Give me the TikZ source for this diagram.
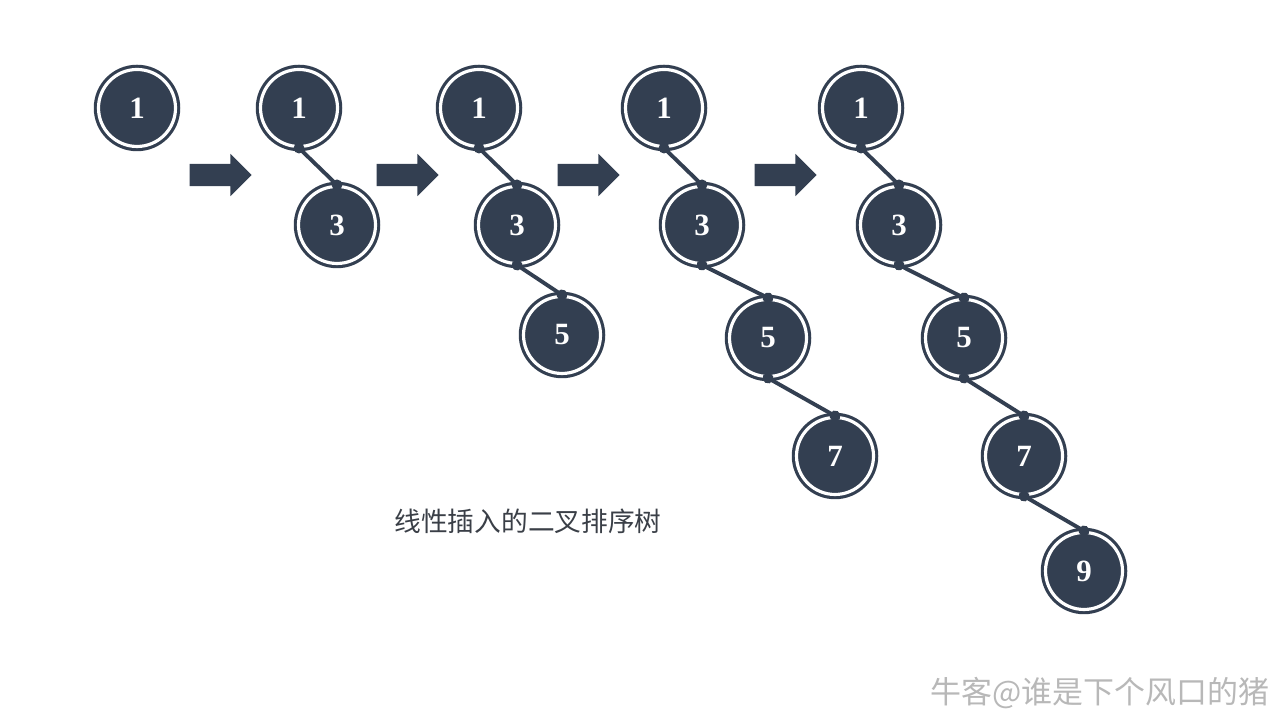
\documentclass[tikz,border=0pt]{standalone}
\usepackage{fontspec}
\setmainfont{Liberation Serif}
\newfontfamily\cjk{Noto Sans CJK SC}
\usepackage{xcolor}
\usepackage{tikz}
\usetikzlibrary{arrows.meta,shapes.arrows}
\definecolor{slate}{HTML}{333F51}
\definecolor{ink}{HTML}{3A3F47}
\definecolor{mark}{HTML}{B8B8B8}

\begin{document}
\begin{tikzpicture}[
  key/.style={circle,minimum size=7.7mm,inner sep=0pt,fill=slate,draw=slate,double=white,
    double distance=0.9pt,line width=0.9pt,text=white,font=\bfseries\fontsize{8.8}{10}\selectfont},
  link/.style={{Circle[length=3pt]}-{Circle[length=3pt]},line width=1.1pt,draw=slate,
    shorten <=-1.5pt,shorten >=-1.5pt},
  stepto/.style={single arrow,fill=slate,draw=none,minimum height=6.2mm,inner sep=1.05mm,
    single arrow head extend=1mm,single arrow head indent=0pt}
]
\useasboundingbox (0,0) rectangle (12.8,7.2);
% stage 0
\node[key] (a1) at (1.37,6.12) {1};
\node[stepto] (s1) at (2.15,5.45) {};
% stage 1
\node[key] (b1) at (2.99,6.12) {1};
\node[key] (b3) at (3.37,4.95) {3};
\node[stepto] (s2) at (4.02,5.45) {};
% stage 2
\node[key] (c1) at (4.79,6.12) {1};
\node[key] (c3) at (5.17,4.95) {3};
\node[key] (c5) at (5.62,3.85) {5};
\node[stepto] (s3) at (5.83,5.45) {};
% stage 3
\node[key] (d1) at (6.64,6.12) {1};
\node[key] (d3) at (7.02,4.95) {3};
\node[key] (d5) at (7.68,3.82) {5};
\node[key] (d7) at (8.35,2.64) {7};
\node[stepto] (s4) at (7.80,5.45) {};
% stage 4
\node[key] (e1) at (8.61,6.12) {1};
\node[key] (e3) at (8.99,4.95) {3};
\node[key] (e5) at (9.64,3.82) {5};
\node[key] (e7) at (10.24,2.64) {7};
\node[key] (e9) at (10.84,1.49) {9};
% right children
\foreach \p/\c in {b1/b3,c1/c3,c3/c5,d1/d3,d3/d5,d5/d7,e1/e3,e3/e5,e5/e7,e7/e9}
  \draw[link] (\p.south) -- (\c.north);
\node[text=ink,font=\cjk\fontsize{7.6}{9}\selectfont] (cap) at (5.28,1.99) {线性插入的二叉排序树};
\node[text=mark,font=\cjk\fontsize{8.8}{10}\selectfont,anchor=east,inner sep=0pt] (wm) at (12.70,0.27) {牛客@谁是下个风口的猪};
\end{tikzpicture}
\end{document}
